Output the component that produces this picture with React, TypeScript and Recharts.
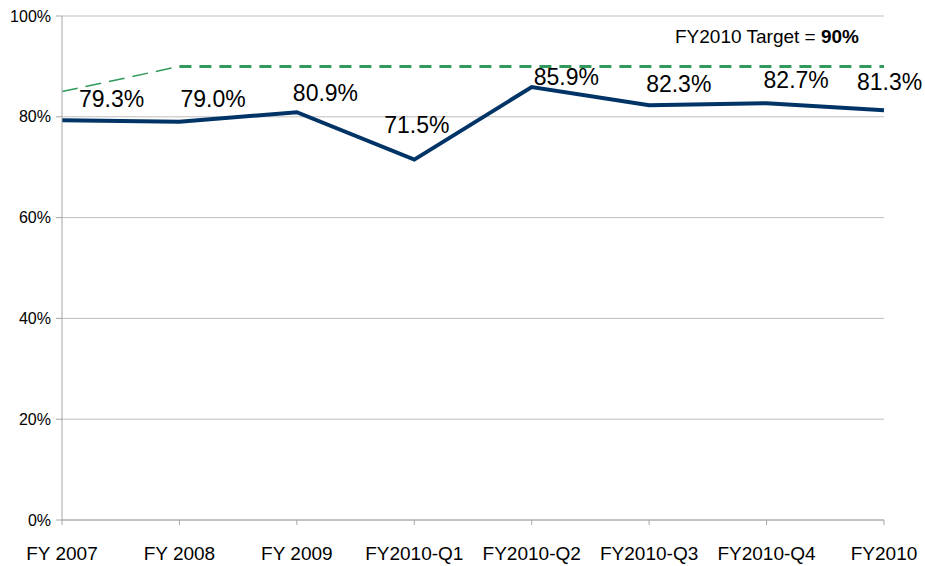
import React from 'react';
import { LineChart, Line, XAxis, YAxis, CartesianGrid, ReferenceLine } from 'recharts';

const periods = ['FY 2007', 'FY 2008', 'FY 2009', 'FY2010-Q1', 'FY2010-Q2', 'FY2010-Q3', 'FY2010-Q4', 'FY2010'];
const actual = [79.3, 79.0, 80.9, 71.5, 85.9, 82.3, 82.7, 81.3];
const targetRamp = [85, 90, null, null, null, null, null, null];
const targetFlat = [null, 90, 90, 90, 90, 90, 90, 90];
const TARGET = 90;
const yTicks = [0, 20, 40, 60, 80, 100];

// hand-placed label nudges (dx, dy from the point), like the original Excel sheet
const labelNudge: [number, number][] = [
  [17, -13], [1, -15], [-4, -11], [-30, -27], [2, -2], [-3, -13], [-3, -15], [-27, -20],
];

const data = periods.map((p, i) => ({
  period: p,
  actual: actual[i],
  ramp: targetRamp[i],
  flat: targetFlat[i],
}));

const FONT = '"Liberation Sans", Arial, sans-serif';
const NAVY = '#003366';
const GREEN = '#2f9a5c';
const AXIS = '#a6a6a6';

const renderValueLabel = (props: any) => {
  const { x, y, index, value } = props;
  const [dx, dy] = labelNudge[index] || [0, -10];
  return (
    <text x={x + dx} y={y + dy} textAnchor="start" fontFamily={FONT} fontSize={23} fill="#000">
      {`${Number(value).toFixed(1)}%`}
    </text>
  );
};

const renderTargetLabel = (props: any) => {
  const { viewBox } = props;
  const right = viewBox.x + viewBox.width;
  return (
    <text x={right - 25} y={viewBox.y - 23} textAnchor="end" fontFamily={FONT} fontSize={19} fill="#000">
      FY2010 Target = <tspan fontWeight="bold">{`${TARGET}%`}</tspan>
    </text>
  );
};

const App: React.FC = () => {
  return (
    <div style={{ position: 'absolute', left: 0, top: 0, background: '#fff' }}>
      <LineChart width={925} height={566} data={data} margin={{ top: 16, right: 41, bottom: 0, left: 0 }}>
        <CartesianGrid vertical={false} stroke="#bfbfbf" strokeWidth={1} />
        <XAxis
          dataKey="period"
          height={46}
          stroke={AXIS}
          tickLine={{ stroke: AXIS }}
          tickSize={5}
          tickMargin={22}
          interval={0}
          tick={{ fontFamily: FONT, fontSize: 19, fill: '#000' }}
        />
        <YAxis
          domain={[0, 100]}
          ticks={yTicks}
          width={62}
          stroke={AXIS}
          tickLine={{ stroke: AXIS }}
          tickSize={6}
          tickMargin={5}
          tickFormatter={(v) => `${v}%`}
          tick={{ fontFamily: FONT, fontSize: 16, fill: '#000' }}
        />
        <ReferenceLine y={TARGET} stroke="none" label={renderTargetLabel} />
        <Line
          dataKey="ramp"
          stroke={GREEN}
          strokeWidth={1.5}
          strokeDasharray="16 8"
          dot={false}
          isAnimationActive={false}
        />
        <Line
          dataKey="flat"
          stroke={GREEN}
          strokeWidth={3}
          strokeDasharray="12 8"
          dot={false}
          isAnimationActive={false}
        />
        <Line
          dataKey="actual"
          stroke={NAVY}
          strokeWidth={4}
          dot={false}
          isAnimationActive={false}
          label={renderValueLabel}
        />
      </LineChart>
    </div>
  );
};

export default App;
